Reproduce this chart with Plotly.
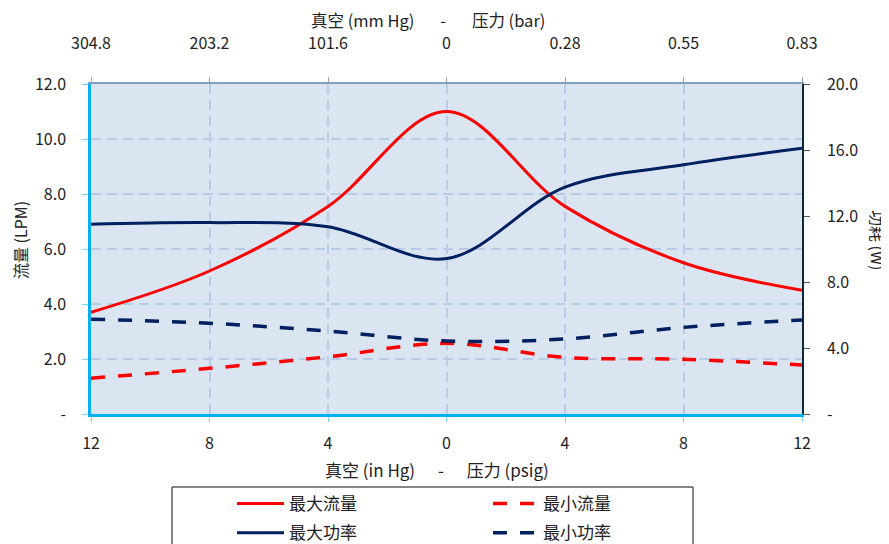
import plotly.graph_objects as go

# ---- data ----
pressure = [-12, -8, -4, 0, 4, 8, 12]
max_flow = [3.7, 5.2, 7.55, 11.0, 7.55, 5.5, 4.5]
min_flow = [1.3, 1.66, 2.08, 2.57, 2.06, 1.99, 1.78]
max_power = [11.5, 11.6, 11.35, 9.42, 13.75, 15.1, 16.1]
min_power = [5.75, 5.5, 5.03, 4.42, 4.55, 5.25, 5.7]

x_tickvals = [-12, -8, -4, 0, 4, 8, 12]
x_ticktext = ["12", "8", "4", "0", "4", "8", "12"]
top_ticktext = ["304.8", "203.2", "101.6", "0", "0.28", "0.55", "0.83"]
y_left_vals = [0, 2, 4, 6, 8, 10, 12]
y_left_text = ["-", "2.0", "4.0", "6.0", "8.0", "10.0", "12.0"]
y_right_vals = [0, 4, 8, 12, 16, 20]
y_right_text = ["-", "4.0", "8.0", "12.0", "16.0", "20.0"]

RED = "#ff0000"
NAVY = "#002060"
FONT = "Noto Sans CJK SC"
TXT = "#222222"
SM = 1.0

fig = go.Figure()
fig.add_trace(go.Scatter(x=pressure, y=max_flow, name="最大流量", mode="lines",
                         line=dict(color=RED, width=3, shape="spline", smoothing=SM),
                         legend="legend", legendgroup="a"))
fig.add_trace(go.Scatter(x=pressure, y=max_power, name="最大功率", mode="lines", yaxis="y2",
                         line=dict(color=NAVY, width=3, shape="spline", smoothing=SM),
                         legend="legend", legendgroup="b"))
fig.add_trace(go.Scatter(x=pressure, y=min_flow, name="最小流量", mode="lines",
                         line=dict(color=RED, width=3.5, dash="14px,13px", shape="spline", smoothing=SM),
                         legend="legend2", legendgroup="c"))
fig.add_trace(go.Scatter(x=pressure, y=min_power, name="最小功率", mode="lines", yaxis="y2",
                         line=dict(color=NAVY, width=3.5, dash="14px,13px", shape="spline", smoothing=SM),
                         legend="legend2", legendgroup="d"))
# invisible trace to activate top axis
fig.add_trace(go.Scatter(x=[pressure[0], pressure[-1]], y=[None, None], xaxis="x2",
                         showlegend=False, hoverinfo="skip", mode="lines"))

OFF = 8  # page body margin
W, H = 889 - OFF, 544 - OFF
L, T = 91 - OFF, 84 - OFF
R = W - (802 - OFF)
B = H - (414 - OFF)
PW, PH = W - L - R, H - T - B


def px(win_x):
    return (win_x - OFF - L) / PW


def py(win_y):
    return (H - B - (win_y - OFF)) / PH


fig.update_layout(
    width=W, height=H,
    margin=dict(l=L, r=R, t=T, b=B, autoexpand=False),
    paper_bgcolor="white",
    plot_bgcolor="#dbe4f1",
    font=dict(family=FONT, size=16, color=TXT),
    xaxis=dict(range=[-12, 12], tickvals=x_tickvals, ticktext=x_ticktext, automargin=False,
               showgrid=True, gridcolor="#b8cbe6", gridwidth=1.5, griddash="10px,6px",
               showline=True, linecolor="#00b0f0", linewidth=2.5,
               ticks="outside", ticklen=5, tickcolor="#7fd0f5", tickwidth=1,
               ticklabelstandoff=8, zeroline=False),
    xaxis2=dict(range=[-12, 12], overlaying="x", side="top", tickvals=x_tickvals,
                ticktext=top_ticktext, showgrid=False, showline=True, automargin=False,
                linecolor="#7f9fbf", linewidth=2, ticks="outside", ticklen=5,
                tickcolor="#a0a0a0", tickwidth=1, ticklabelstandoff=22, zeroline=False),
    yaxis=dict(range=[0, 12], tickvals=y_left_vals, ticktext=y_left_text, automargin=False,
               showgrid=True, gridcolor="#b8cbe6", gridwidth=1.5, griddash="10px,6px",
               showline=True, linecolor="#00b0f0", linewidth=2.5,
               ticks="outside", ticklen=6, tickcolor="#7fd0f5", tickwidth=1,
               ticklabelstandoff=13, zeroline=False),
    yaxis2=dict(range=[0, 20], overlaying="y", side="right", tickvals=y_right_vals,
                ticktext=y_right_text, showgrid=False, showline=True, automargin=False,
                linecolor="#0b2a40", linewidth=1.5, ticks="outside", ticklen=6,
                tickcolor="#555555", tickwidth=1, ticklabelstandoff=14, zeroline=False),
    legend=dict(x=px(232), xanchor="left", y=py(486), yanchor="top",
                orientation="v", bgcolor="rgba(0,0,0,0)", borderwidth=0,
                font=dict(family=FONT, size=17, color=TXT), itemwidth=47,
                tracegroupgap=4),
    legend2=dict(x=px(488), xanchor="left", y=py(486), yanchor="top",
                 orientation="v", bgcolor="rgba(0,0,0,0)", borderwidth=0,
                 font=dict(family=FONT, size=17, color=TXT), itemwidth=45,
                 tracegroupgap=4),
    shapes=[dict(type="rect", xref="paper", yref="paper",
                 x0=px(172), x1=px(693), y0=py(487), y1=py(560),
                 line=dict(color="#111111", width=1), fillcolor="rgba(0,0,0,0)")],
    annotations=[
        dict(text="真空 (mm Hg)       -       压力 (bar)", xref="paper", yref="paper",
             x=px(428), y=py(20), showarrow=False,
             font=dict(family=FONT, size=16.5, color=TXT), xanchor="center", yanchor="middle"),
        dict(text="真空 (in Hg)      -      压力 (psig)", xref="paper", yref="paper",
             x=px(437), y=py(469), showarrow=False,
             font=dict(family=FONT, size=17, color=TXT), xanchor="center", yanchor="middle"),
        dict(text="流量 (LPM)", xref="paper", yref="paper", textangle=-90,
             x=px(20), y=py(240), showarrow=False,
             font=dict(family=FONT, size=16, color=TXT), xanchor="center", yanchor="middle"),
        dict(text="功耗 (W)", xref="paper", yref="paper", textangle=90,
             x=px(878), y=py(240), showarrow=False,
             font=dict(family=FONT, size=16, color=TXT), xanchor="center", yanchor="middle"),
    ],
)

fig.write_html("out.html")
